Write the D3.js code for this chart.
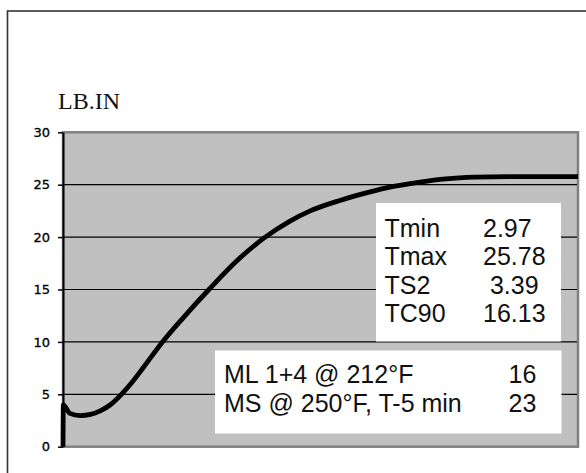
<!DOCTYPE html>
<html>
<head>
<meta charset="utf-8">
<script src="https://cdn.jsdelivr.net/npm/d3@7"></script>
<style>
  html, body { margin: 0; padding: 0; background: #fff; }
  svg { display: block; }
  .stat { font-family: Arial, "Liberation Sans", sans-serif; font-size: 25px; fill: #111; white-space: pre; }
</style>
</head>
<body>
<svg id="chart" width="586" height="473"></svg>
<script>
// Cure curve: torque (LB.IN) against test time (minutes)
const timeMin = [0, 0.02, 0.4, 1.0, 1.6, 2.2, 2.8, 3.39, 4.0, 4.7, 5.75, 7.0, 8.5, 10.1, 11.7, 13.2, 14.4, 16.13, 17.5, 18.85, 20.8, 22.3, 24.0, 26.0, 28.0, 30.0];
const torque  = [0, 4.0, 3.18, 2.97, 3.08, 3.45, 4.05, 4.97, 6.1, 7.6, 9.9, 12.3, 15.0, 17.7, 19.9, 21.5, 22.5, 23.5, 24.15, 24.7, 25.25, 25.55, 25.72, 25.78, 25.78, 25.77];
const yTicks = [0, 5, 10, 15, 20, 25, 30];

// Rheometer summary values
const statNames  = ["Tmin", "Tmax", "TS2", "TC90"];
const statValues = ["2.97", "25.78", " 3.39", "16.13"];

// Mooney results
const testNames  = ["ML 1+4 @ 212°F", "MS @ 250°F, T-5 min"];
const testValues = ["16", "23"];

const svg = d3.select("#chart");
const plot = { left: 63, right: 578, top: 132.3, bottom: 446.7 };

const x = d3.scaleLinear().domain([0, 30]).range([plot.left, plot.right]);
const y = d3.scaleLinear().domain([0, 30]).range([plot.bottom, plot.top]);

// outer chart frame (runs off the right and bottom edges)
svg.append("rect")
  .attr("x", 7.5).attr("y", 11).attr("width", 600).attr("height", 500)
  .attr("fill", "#fff").attr("stroke", "#333").attr("stroke-width", 1.6);

// plot area
svg.append("rect")
  .attr("x", plot.left).attr("y", plot.top)
  .attr("width", plot.right - plot.left).attr("height", plot.bottom - plot.top)
  .attr("fill", "#c0c0c0").attr("stroke", "#808080").attr("stroke-width", 2.5);

// horizontal gridlines
svg.append("g").selectAll("line")
  .data(yTicks.filter(d => d > 0 && d < 30))
  .join("line")
  .attr("x1", plot.left).attr("x2", plot.right - 1)
  .attr("y1", d => y(d)).attr("y2", d => y(d))
  .attr("stroke", "#000").attr("stroke-width", 1.2);

// y axis
const yAxis = svg.append("g")
  .attr("transform", `translate(${plot.left},0)`)
  .call(d3.axisLeft(y).tickValues(yTicks).tickSize(5).tickPadding(8).tickSizeOuter(0));
yAxis.select(".domain").attr("stroke", "#000").attr("stroke-width", 2);
yAxis.selectAll(".tick line").attr("stroke", "#000").attr("stroke-width", 1.5);
yAxis.selectAll(".tick text")
  .attr("font-family", "'DejaVu Sans', sans-serif")
  .attr("font-size", 13)
  .attr("fill", "#000")
  .attr("stroke", "#000")
  .attr("stroke-width", 0.3);

// axis unit
svg.append("text")
  .attr("x", 58).attr("y", 109)
  .attr("font-family", "'Liberation Serif', 'Times New Roman', serif")
  .attr("font-size", 24)
  .attr("fill", "#111")
  .text("LB.IN");

// torque curve
const line = d3.line()
  .x((d, i) => x(timeMin[i]))
  .y(d => y(d))
  .curve(d3.curveMonotoneX);

svg.append("path")
  .datum(torque)
  .attr("d", line)
  .attr("fill", "none")
  .attr("stroke", "#000")
  .attr("stroke-width", 4.8)
  .attr("stroke-linejoin", "round");

// summary box
const box1 = svg.append("g");
box1.append("rect")
  .attr("x", 376).attr("y", 203).attr("width", 185).attr("height", 138.5)
  .attr("fill", "#fff");
box1.selectAll("text.name")
  .data(statNames)
  .join("text")
  .attr("class", "stat name")
  .attr("x", 384.5)
  .attr("y", (d, i) => 236.5 + i * 28.5)
  .text(d => d);
box1.selectAll("text.val")
  .data(statValues)
  .join("text")
  .attr("class", "stat val")
  .attr("x", 483)
  .attr("y", (d, i) => 236.5 + i * 28.5)
  .text(d => d);

// Mooney box
const box2 = svg.append("g");
box2.append("rect")
  .attr("x", 215).attr("y", 350.5).attr("width", 346.5).attr("height", 83)
  .attr("fill", "#fff");
box2.selectAll("text.name")
  .data(testNames)
  .join("text")
  .attr("class", "stat name")
  .attr("x", 224)
  .attr("y", (d, i) => 383.3 + i * 28.4)
  .text(d => d);
box2.selectAll("text.val")
  .data(testValues)
  .join("text")
  .attr("class", "stat val")
  .attr("x", 508.5)
  .attr("y", (d, i) => 383.3 + i * 28.4)
  .text(d => d);
</script>
</body>
</html>
